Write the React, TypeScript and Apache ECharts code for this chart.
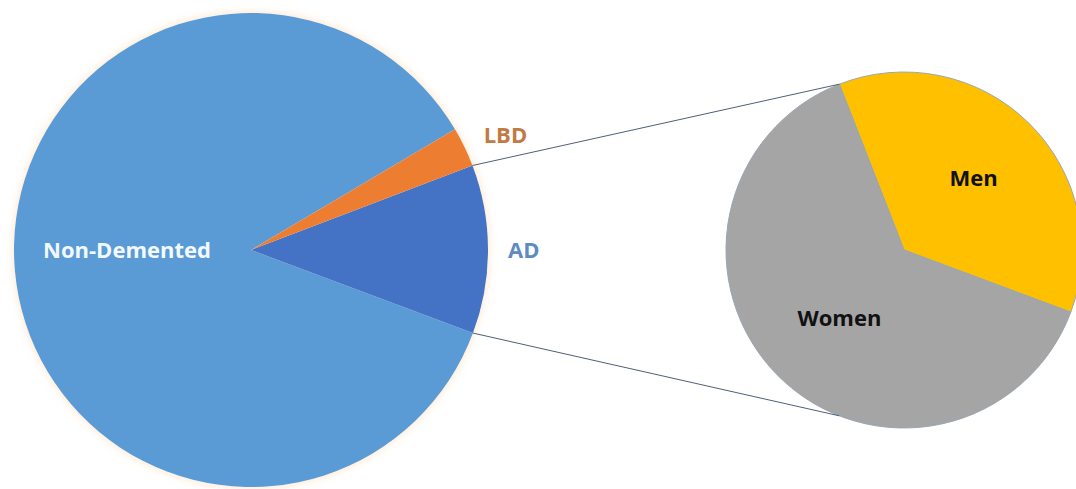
import { useEffect, useRef } from "react";
import * as echarts from "echarts";

// ---- data ----
const mainCategories = ["Non-Demented", "AD", "LBD"];
const mainValues = [85.8, 11.5, 2.7];
const splitCategories = ["Men", "Women"];
const splitValues = [36.6, 63.4];

// ---- layout / style ----
const MAIN_CENTER = [251, 250];
const MAIN_R = 237;
const MAIN_START = 30.6; // counter-clockwise
const SUB_CENTER = [904, 250];
const SUB_R = 178;
const SUB_START = 111.3; // clockwise

const mainColors = ["#5B9BD5", "#4472C4", "#ED7D31"];
const mainLabelColors = ["#F2F9FF", "#5B8CC2", "#C27A45"];
const mainLabelPos = ["inside", "outside", "outside"];
const mainLabelNudge = [
  [-3, -12],
  [0, 0],
  [0, -10],
];
const subColors = ["#FFC000", "#A5A5A5"];
const subLabelNudge = [
  [5, -7],
  [0, 1],
];

const FONT = "'Open Sans', 'DejaVu Sans', sans-serif";

function polar(c: number[], r: number, deg: number) {
  const a = (deg * Math.PI) / 180;
  return [c[0] + r * Math.cos(a), c[1] - r * Math.sin(a)];
}

export default function App() {
  const ref = useRef<HTMLDivElement>(null);
  useEffect(() => {
    if (!ref.current) return;
    const chart = echarts.init(ref.current, null, { renderer: "svg" });

    // connector geometry derived from the data (AD slice boundaries)
    const total = mainValues.reduce((a, b) => a + b, 0);
    const adIdx = mainCategories.indexOf("AD");
    let acc = 0;
    for (let i = 0; i < adIdx; i++) acc += mainValues[i];
    const adStartDeg = MAIN_START + (360 * acc) / total; // ccw
    const adEndDeg = adStartDeg + (360 * mainValues[adIdx]) / total;
    const pLow = polar(MAIN_CENTER, MAIN_R, adStartDeg);
    const pHigh = polar(MAIN_CENTER, MAIN_R, adEndDeg);
    const qHigh = polar(SUB_CENTER, SUB_R, SUB_START);
    const qLow = polar(SUB_CENTER, SUB_R, -SUB_START);

    chart.setOption({
      animation: false,
      backgroundColor: "#ffffff",
      graphic: [
        {
          type: "circle",
          z: 0,
          silent: true,
          shape: { cx: MAIN_CENTER[0], cy: MAIN_CENTER[1], r: MAIN_R },
          style: {
            fill: "#ffffff",
            shadowBlur: 8,
            shadowColor: "rgba(255,200,140,0.55)",
          },
        },
        {
          type: "line",
          z: 5,
          silent: true,
          shape: { x1: pHigh[0], y1: pHigh[1], x2: qHigh[0], y2: qHigh[1] },
          style: { stroke: "#4F5F78", lineWidth: 1 },
        },
        {
          type: "line",
          z: 5,
          silent: true,
          shape: { x1: pLow[0], y1: pLow[1], x2: qLow[0], y2: qLow[1] },
          style: { stroke: "#4F5F78", lineWidth: 1 },
        },
      ],
      series: [
        {
          type: "pie",
          z: 2,
          center: MAIN_CENTER,
          radius: MAIN_R,
          startAngle: MAIN_START,
          clockwise: false,
          avoidLabelOverlap: false,
          label: {
            fontFamily: FONT,
            fontWeight: "bold",
            fontSize: 22,
            distanceToLabelLine: 5,
          },
          labelLine: { show: false, length: 8, length2: 7 },
          labelLayout: (p: any) => ({
            dx: mainLabelNudge[p.dataIndex][0],
            dy: mainLabelNudge[p.dataIndex][1],
          }),
          itemStyle: { borderWidth: 0 },
          emphasis: { disabled: true },
          data: mainCategories.map((name, i) => ({
            name,
            value: mainValues[i],
            itemStyle: { color: mainColors[i] },
            label: {
              position: mainLabelPos[i],
              color: mainLabelColors[i],
              formatter: "{b}",
            },
          })),
        },
        {
          type: "pie",
          z: 2,
          center: SUB_CENTER,
          radius: SUB_R,
          startAngle: SUB_START,
          clockwise: true,
          avoidLabelOverlap: false,
          label: {
            position: "inside",
            fontFamily: FONT,
            fontWeight: "bold",
            fontSize: 22,
            color: "#111111",
            formatter: "{b}",
          },
          labelLine: { show: false },
          labelLayout: (p: any) => ({
            dx: subLabelNudge[p.dataIndex][0],
            dy: subLabelNudge[p.dataIndex][1],
          }),
          itemStyle: { borderColor: "#9AA6B4", borderWidth: 1 },
          emphasis: { disabled: true },
          data: splitCategories.map((name, i) => ({
            name,
            value: splitValues[i],
            itemStyle: { color: subColors[i] },
          })),
        },
      ],
    });
    return () => chart.dispose();
  }, []);

  return (
    <div
      ref={ref}
      style={{ position: "fixed", left: 0, top: 0, width: 1076, height: 489 }}
    />
  );
}
